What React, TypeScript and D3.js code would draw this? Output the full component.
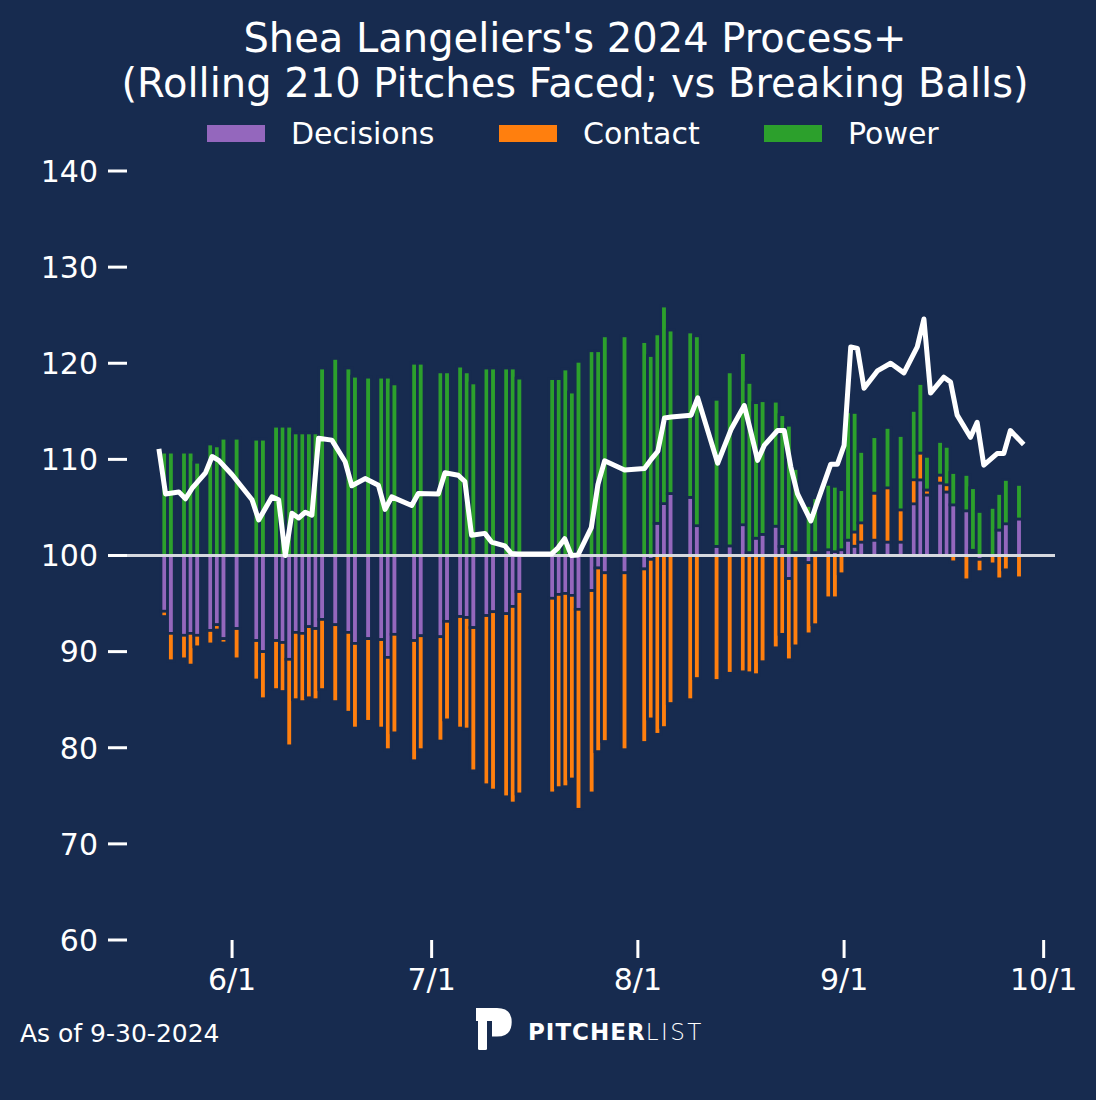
import { useEffect } from 'react'
import { scaleLinear, scaleTime, line, timeDay } from 'd3'

// Game dates (one bar + one line point each)
const DATES = [
  '2024-05-21', '2024-05-22', '2024-05-24', '2024-05-25', '2024-05-26', '2024-05-28', '2024-05-29', '2024-05-30',
  '2024-06-01', '2024-06-04', '2024-06-05', '2024-06-07', '2024-06-08', '2024-06-09', '2024-06-10', '2024-06-11',
  '2024-06-12', '2024-06-13', '2024-06-14', '2024-06-16', '2024-06-18', '2024-06-19', '2024-06-21', '2024-06-23',
  '2024-06-24', '2024-06-25', '2024-06-28', '2024-06-29', '2024-07-02', '2024-07-03', '2024-07-05', '2024-07-06',
  '2024-07-07', '2024-07-09', '2024-07-10', '2024-07-12', '2024-07-13', '2024-07-14', '2024-07-19', '2024-07-20',
  '2024-07-21', '2024-07-22', '2024-07-23', '2024-07-25', '2024-07-26', '2024-07-27', '2024-07-30', '2024-08-02',
  '2024-08-03', '2024-08-04', '2024-08-05', '2024-08-06', '2024-08-09', '2024-08-10', '2024-08-13', '2024-08-15',
  '2024-08-17', '2024-08-18', '2024-08-19', '2024-08-20', '2024-08-22', '2024-08-23', '2024-08-24', '2024-08-25',
  '2024-08-27', '2024-08-28', '2024-08-30', '2024-08-31', '2024-09-01', '2024-09-02', '2024-09-03', '2024-09-04',
  '2024-09-06', '2024-09-08', '2024-09-10', '2024-09-12', '2024-09-13', '2024-09-14', '2024-09-16', '2024-09-17',
  '2024-09-18', '2024-09-20', '2024-09-21', '2024-09-22', '2024-09-24', '2024-09-25', '2024-09-26', '2024-09-28',
]

// component deviations from 100
const DECISIONS = [
  -5.8, -8.1, -8.3, -8.1, -8.3, -7.8, -7.2, -8.65,
  -7.6, -8.85, -10.0, -8.85, -9.05, -10.8, -8.0, -8.1,
  -7.4, -7.6, -6.65, -7.2, -8.0, -9.15, -8.65, -8.75,
  -10.6, -8.2, -8.85, -8.35, -8.45, -6.85, -6.35, -6.45,
  -7.5, -6.25, -5.85, -6.05, -5.3, -3.75, -4.45, -4.05,
  -3.95, -4.15, -5.6, -3.65, -1.3, -1.8, -1.8, -1.4,
  -0.4, 3.35, 5.4, 6.45, 6.05, 3.1, 0.95, 1.0,
  3.2, 0.3, 1.8, 2.2, 3.05, 0.95, -2.4, 0.3,
  -0.75, 0.3, 0.6, 0.4, 0.6, 1.6, 0.97, 1.4,
  1.6, 1.4, 1.4, 5.38, 7.87, 6.3, 7.54, 6.61,
  5.27, 4.65, 0.3, -0.4, 0, 2.65, 3.3, 3.8,
]
const CONTACT = [
  -0.55, -2.85, -2.45, -3.3, -1.2, -1.4, -0.55, -0.45,
  -3.15, -4.1, -4.9, -5.1, -5.1, -9.0, -7.0, -7.1,
  -7.4, -7.4, -7.3, -8.0, -8.3, -8.8, -8.6, -9.2,
  -9.6, -10.25, -12.5, -11.85, -10.85, -10.25, -11.6, -11.6,
  -14.9, -17.6, -18.55, -19.05, -20.45, -21.05, -20.25, -20.1,
  -20.1, -19.1, -20.8, -21.05, -19.1, -17.55, -18.4, -18.05,
  -16.6, -18.6, -17.9, -15.4, -15.0, -12.8, -13.0, -12.25,
  -12.1, -12.2, -12.4, -11.05, -9.6, -8.2, -8.45, -9.4,
  -7.4, -7.2, -4.4, -4.4, -1.9, 0, 1.48, 2.0,
  4.89, 5.64, 3.35, 2.5, 2.79, 0.52, 0.83, 0.75,
  -0.66, -2.53, 0.25, -1.28, -0.87, -2.43, -1.49, -2.32,
]
const POWER = [
  10.75, 10.75, 10.75, 10.75, 9.7, 11.6, 11.4, 12.2,
  12.2, 12.1, 12.1, 13.45, 13.45, 13.45, 12.75, 12.75,
  12.75, 12.75, 19.5, 20.5, 19.5, 18.65, 18.55, 18.55,
  18.55, 17.85, 20.0, 20.0, 19.1, 19.1, 19.7, 19.1,
  17.95, 19.5, 19.5, 19.5, 19.5, 18.45, 18.4, 18.4,
  19.4, 17.0, 20.2, 21.3, 21.3, 22.85, 22.85, 22.25,
  20.8, 19.7, 20.55, 17.0, 17.2, 19.75, 15.3, 18.1,
  17.9, 17.7, 14.1, 13.9, 13.0, 13.7, 13.55, 8.75,
  5.2, 5.7, 6.8, 6.8, 6.25, 13.35, 12.43, 7.42,
  5.87, 6.28, 7.73, 7.21, 7.23, 3.49, 3.49, 3.99,
  3.36, 3.78, 6.5, 4.58, 5.0, 3.8, 4.61, 3.59,
]
// rolling Process+
const PROCESS = [
  111.1, 106.4, 106.6, 105.9, 107.0, 108.6, 110.3, 109.9,
  108.4, 105.8, 103.7, 106.1, 105.8, 100.0, 104.4, 103.9,
  104.5, 104.2, 112.2, 112.0, 109.75, 107.25, 108.0, 107.3,
  104.8, 106.1, 105.2, 106.45, 106.4, 108.6, 108.35, 107.7,
  102.1, 102.3, 101.4, 101.0, 100.2, 100.15, 100.15, 100.8,
  101.75, 100.0, 100.05, 102.9, 107.4, 109.85, 108.9, 109.05,
  110.0, 110.85, 114.3, 114.4, 114.6, 116.4, 109.6, 113.1,
  115.6, 112.8, 109.9, 111.45, 113.0, 113.0, 109.2, 106.4,
  103.6, 105.6, 109.5, 109.5, 111.45, 121.7, 121.55, 117.4,
  119.2, 120.0, 119.0, 121.7, 124.6, 116.9, 118.55, 118.05,
  114.6, 112.3, 113.85, 109.4, 110.6, 110.6, 113.0, 111.55,
]

const Y_TICKS = [60, 70, 80, 90, 100, 110, 120, 130, 140]
const X_TICKS = ['2024-06-01', '2024-07-01', '2024-08-01', '2024-09-01', '2024-10-01']
const X_TICK_LABELS = ['6/1', '7/1', '8/1', '9/1', '10/1']

const SERIES = [
  { name: 'Decisions', values: DECISIONS, color: '#9467bd' },
  { name: 'Contact', values: CONTACT, color: '#ff7f0e' },
  { name: 'Power', values: POWER, color: '#2ca02c' },
]

const W = 1096
const H = 1100
const BG = '#172b4f'
const FONT = '"DejaVu Sans", sans-serif'
const AX_L = 127
const AX_R = 1055

const parse = (s: string) => new Date(s + 'T00:00:00')

export default function App() {
  useEffect(() => {
    document.body.style.margin = '0'
    document.body.style.background = BG
  }, [])

  const dates = DATES.map(parse)
  const first = dates[0]
  const last = dates[dates.length - 1]

  // the line and the date ticks share one x scale, the bars sit on a slightly tighter one
  const x = scaleTime().domain([first, last]).range([158.9, 1023.7])
  const xBar = scaleTime().domain([first, last]).range([164.3, 1019])
  const y = scaleLinear().domain([60, 140]).range([940, 171])

  const dayW = xBar(timeDay.offset(first, 1)) - xBar(first)

  const bars = dates.flatMap((d, i) => {
    let pos = 100
    let neg = 100
    return SERIES.map((s) => {
      const v = s.values[i]
      let y0: number, y1: number
      if (v >= 0) {
        y0 = pos
        y1 = pos + v
        pos = y1
      } else {
        y0 = neg
        y1 = neg + v
        neg = y1
      }
      return { key: `${i}-${s.name}`, x: xBar(d), top: Math.max(y0, y1), bot: Math.min(y0, y1), color: s.color }
    })
  })

  const path = line<number>()
    .x((_, i) => x(dates[i]))
    .y((v) => y(v))(PROCESS)

  const legendX = [207, 499, 764]

  return (
    <svg width={W} height={H} viewBox={`0 0 ${W} ${H}`} style={{ display: 'block', fontFamily: FONT }}>
      <rect width={W} height={H} fill={BG} />

      <text x={575} y={52} textAnchor="middle" fontSize={40} fill="#fff">
        Shea Langeliers's 2024 Process+
      </text>
      <text x={575} y={97} textAnchor="middle" fontSize={40} fill="#fff">
        (Rolling 210 Pitches Faced; vs Breaking Balls)
      </text>

      {SERIES.map((s, i) => (
        <g key={s.name}>
          <rect x={legendX[i]} y={125} width={58} height={17} fill={s.color} />
          <text x={legendX[i] + 84} y={144} fontSize={30} fill="#fff">
            {s.name}
          </text>
        </g>
      ))}

      {Y_TICKS.map((t) => (
        <g key={t}>
          <line x1={108} x2={127} y1={y(t)} y2={y(t)} stroke="#fff" strokeWidth={3} />
          <text x={98} y={y(t)} dy="0.36em" textAnchor="end" fontSize={30} fill="#fff">
            {t}
          </text>
        </g>
      ))}

      {X_TICKS.map((t, i) => (
        <g key={t}>
          <line x1={x(parse(t))} x2={x(parse(t))} y1={940} y2={958} stroke="#fff" strokeWidth={3} />
          <text x={x(parse(t))} y={990} textAnchor="middle" fontSize={30} fill="#fff">
            {X_TICK_LABELS[i]}
          </text>
        </g>
      ))}

      {bars.map((b) => (
        <rect
          key={b.key}
          x={b.x - dayW / 2}
          width={dayW}
          y={y(b.top)}
          height={y(b.bot) - y(b.top)}
          fill={b.color}
          stroke={BG}
          strokeWidth={2.7}
        />
      ))}

      <line x1={AX_L} x2={AX_R} y1={y(100)} y2={y(100)} stroke="#d6d9df" strokeWidth={3} />

      <path d={path ?? ''} fill="none" stroke="#fff" strokeWidth={5} strokeLinejoin="round" strokeLinecap="butt" />

      <text x={20} y={1042} fontSize={25} fill="#fff">
        As of 9-30-2024
      </text>

      <g fill="#fff">
        <path d="M476,1008 H497 Q511.7,1008 511.7,1022 Q511.7,1036.5 497,1036.5 H492 V1021 H476 Z" />
        <rect x={478} y={1015} width={9} height={35} rx={1.5} />
        <text x={528} y={1040} fontSize={23} letterSpacing={1}>
          <tspan fontWeight={700}>PITCHER</tspan>
          <tspan fontFamily='"DejaVu Sans ExtraLight", "DejaVu Sans", sans-serif' fontWeight={200} letterSpacing={2.5}>
            LIST
          </tspan>
        </text>
      </g>
    </svg>
  )
}
